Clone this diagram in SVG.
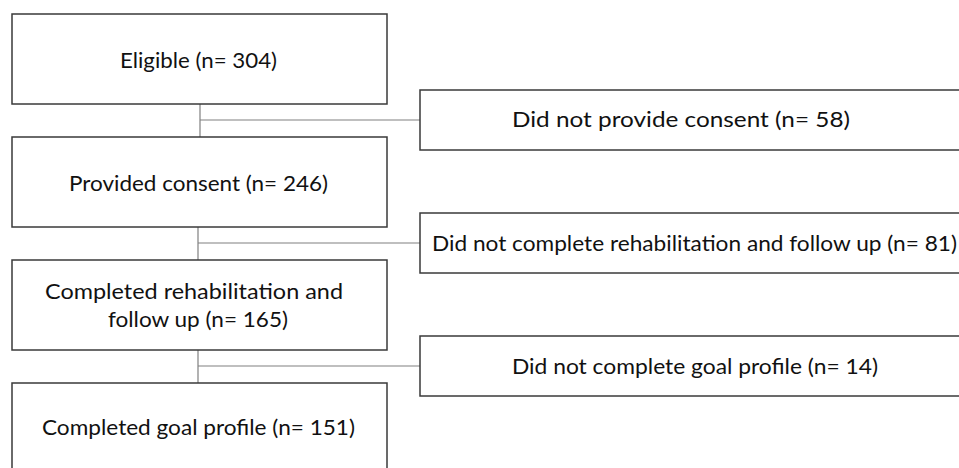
<svg xmlns="http://www.w3.org/2000/svg" width="959" height="468" viewBox="0 0 959 468">
<style>
.box{fill:#ffffff;stroke:#3a3a3a;stroke-width:1.5}
.conn{fill:none;stroke:#808080;stroke-width:1.2}
.t{font-family:Lato,"Liberation Sans",Arial,sans-serif;font-size:21px;fill:#111111;text-anchor:middle}
</style>
<rect width="959" height="468" fill="#ffffff"/>
<g id="connectors">
<path class="conn" d="M200,104 V137 M200,120 H420"/>
<path class="conn" d="M198,227 V260 M198,243 H420"/>
<path class="conn" d="M198,350 V383 M198,366 H420"/>
</g>
<g id="eligible">
<rect class="box" x="12" y="14" width="375" height="90"/>
<text class="t" x="198.5" y="68" textLength="157" lengthAdjust="spacingAndGlyphs">Eligible (n= 304)</text>
</g>
<g id="no-consent">
<rect class="box" x="420" y="90" width="560" height="60"/>
<text class="t" x="681" y="127" textLength="338" lengthAdjust="spacingAndGlyphs">Did not provide consent (n= 58)</text>
</g>
<g id="consent">
<rect class="box" x="12" y="137" width="375" height="90"/>
<text class="t" x="198.5" y="191" textLength="259" lengthAdjust="spacingAndGlyphs">Provided consent (n= 246)</text>
</g>
<g id="no-rehab">
<rect class="box" x="420" y="213" width="560" height="60"/>
<text class="t" x="694.5" y="251" textLength="525" lengthAdjust="spacingAndGlyphs">Did not complete rehabilitation and follow up (n= 81)</text>
</g>
<g id="rehab">
<rect class="box" x="12" y="260" width="375" height="90"/>
<text class="t" x="194" y="299" textLength="298" lengthAdjust="spacingAndGlyphs">Completed rehabilitation and</text>
<text class="t" x="198" y="327" textLength="180" lengthAdjust="spacingAndGlyphs">follow up (n= 165)</text>
</g>
<g id="no-goal">
<rect class="box" x="420" y="336" width="560" height="60"/>
<text class="t" x="695" y="374" textLength="366" lengthAdjust="spacingAndGlyphs">Did not complete goal profile (n= 14)</text>
</g>
<g id="goal">
<rect class="box" x="12" y="383" width="375" height="100"/>
<text class="t" x="198.5" y="435" textLength="313" lengthAdjust="spacingAndGlyphs">Completed goal profile (n= 151)</text>
</g>
</svg>
